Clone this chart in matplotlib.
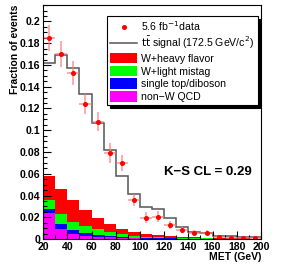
import numpy as np
import matplotlib
matplotlib.use('Agg')
import matplotlib.pyplot as plt
from matplotlib.ticker import MultipleLocator, FuncFormatter
from matplotlib.patches import Patch
from matplotlib.lines import Line2D

plt.rcParams['font.family'] = ['Liberation Sans', 'DejaVu Sans']

# MET bins (GeV)
edges = np.arange(20, 201, 10)
centers = edges[:-1] + 5

# stacked backgrounds (bottom to top)
qcd = [0.024, 0.009, 0.0046, 0.003, 0.002, 0.0015, 0.001, 0.0007, 0.0005,
       0.0004, 0.0003, 0.0002, 0.0002, 0.0001, 0.0001, 0.0001, 0.0001, 0.0001]
stop = [0.0035, 0.0045, 0.0037, 0.0028, 0.002, 0.0015, 0.001, 0.0006, 0.0005,
        0.0004, 0.0003, 0.0003, 0.0002, 0.0002, 0.0001, 0.0001, 0.0001, 0.0001]
wlight = [0.0085, 0.0095, 0.0073, 0.0062, 0.005, 0.0034, 0.0023, 0.0017, 0.001,
          0.0008, 0.0006, 0.0005, 0.0004, 0.0003, 0.0002, 0.0002, 0.0001, 0.0001]
wheavy = [0.022, 0.023, 0.020, 0.015, 0.010, 0.0074, 0.0052, 0.0034, 0.0029,
          0.002, 0.0016, 0.0012, 0.0009, 0.0007, 0.0006, 0.0004, 0.0003, 0.0002]

# ttbar signal template
signal = [0.162, 0.169, 0.157, 0.133, 0.107, 0.082, 0.058, 0.041, 0.029,
          0.028, 0.019, 0.011, 0.0065, 0.0055, 0.003, 0.0025, 0.002, 0.0015]

# data
data = [0.185, 0.170, 0.153, 0.124, 0.108, 0.079, 0.070, 0.036, 0.0196,
        0.0205, 0.013, 0.0085, 0.006, 0.006, 0.0015, 0.0012, 0.001, 0.001]
data_err = [0.012, 0.0118, 0.011, 0.0095, 0.0084, 0.009, 0.0077, 0.0058, 0.0049,
            0.005, 0.004, 0.0032, 0.0026, 0.0026, 0.0012, 0.0011, 0.001, 0.001]

fig = plt.figure(figsize=(2.91, 2.68), dpi=100)
ax = fig.add_axes([0.148, 0.108, 0.749, 0.873])

bottom = np.zeros(len(centers))
for vals, col in [(qcd, '#ff00ff'), (stop, '#0000ff'), (wlight, '#00ff00'), (wheavy, '#ff0000')]:
    ax.bar(edges[:-1], vals, width=10, align='edge', bottom=bottom, color=col, linewidth=0)
    bottom += np.array(vals)

ax.stairs(signal, edges, color='#555555', linewidth=1.1)

ax.errorbar(centers, data, yerr=data_err, xerr=5, fmt='none', ecolor=(1, 0.45, 0.45, 0.7), elinewidth=1.2)
ax.plot(centers, data, 'o', color='red', markersize=2.6, linestyle='none')

ax.set_xlim(20, 200)
ax.set_ylim(0, 0.215)
ax.xaxis.set_major_locator(MultipleLocator(20))
ax.xaxis.set_minor_locator(MultipleLocator(10))
ax.yaxis.set_major_locator(MultipleLocator(0.02))
ax.yaxis.set_minor_locator(MultipleLocator(0.005))
ax.yaxis.set_major_formatter(FuncFormatter(lambda v, p: '%g' % round(v, 3)))
ax.tick_params(which='both', direction='in', top=False, right=False, width=0.8)
ax.tick_params(which='major', length=6, labelsize=7.6, pad=2)
ax.tick_params(which='minor', length=3)
for lab in ax.get_xticklabels() + ax.get_yticklabels():
    lab.set_fontweight('bold')
for s in ax.spines.values():
    s.set_linewidth(0.8)

handles = [
    Line2D([], [], marker='o', color='red', markersize=2.6, linestyle='none'),
    Line2D([], [], color='#555555', linewidth=1.1),
    Patch(facecolor='#ff0000'),
    Patch(facecolor='#00ff00'),
    Patch(facecolor='#0000ff'),
    Patch(facecolor='#ff00ff'),
]
labels = ['5.6 fb$^{-1}$data', r'$\mathrm{t\bar{t}}$ signal (172.5 GeV/c$^{2}$)',
          'W+heavy flavor', 'W+light mistag', 'single top/diboson', 'non\u2212W QCD']
leg = ax.legend(handles, labels, loc='upper left', bbox_to_anchor=(0.294, 0.953),
                fontsize=7.6, frameon=True, fancybox=False, edgecolor='black',
                shadow={'color': 'black', 'alpha': 1}, borderaxespad=0,
                handlelength=2.5, handleheight=1.15, labelspacing=0.18,
                handletextpad=0.45, borderpad=0.3)
leg.get_frame().set_linewidth(0.8)

ax.text(156, 0.062, 'K\u2212S CL = 0.29', ha='center', va='center',
        fontsize=9.5, fontweight='bold')

fig.text(0.897, 0.041, 'MET (GeV)', ha='right', va='center', fontsize=7.5, fontweight='bold')
fig.text(0.05, 0.981, 'Fraction of events', ha='center', va='top', rotation=90,
         fontsize=7.5, fontweight='bold')

fig.savefig('out.png', dpi=100)
